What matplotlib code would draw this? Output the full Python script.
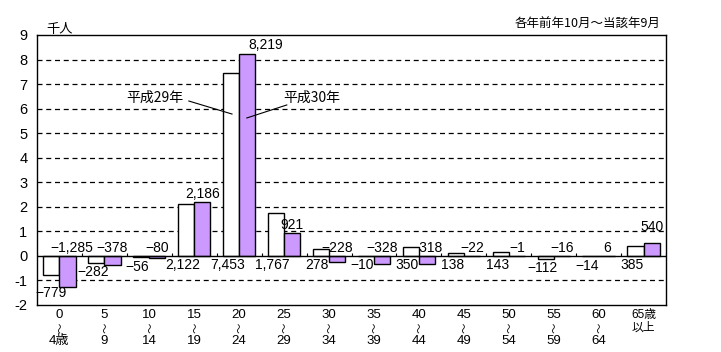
import matplotlib
matplotlib.use("Agg")
import matplotlib.pyplot as plt
import matplotlib.transforms as mtransforms
import numpy as np

plt.rcParams['font.family'] = ['Noto Sans CJK JP', 'DejaVu Sans']

cat_top = ["0", "5", "10", "15", "20", "25", "30", "35", "40", "45", "50", "55", "60", "65歳"]
cat_bottom = ["4歳", "9", "14", "19", "24", "29", "34", "39", "44", "49", "54", "59", "64", "以上"]
h29 = [-779, -282, -56, 2122, 7453, 1767, 278, -10, 350, 138, 143, -112, -14, 385]
h30 = [-1285, -378, -80, 2186, 8219, 921, -228, -328, -318, -22, -1, -16, 6, 540]
series_names = ["平成29年", "平成30年"]
unit_label = "千人"
period_label = "各年前年10月～当該年9月"

h29k = np.array(h29) / 1000.0
h30k = np.array(h30) / 1000.0

fig = plt.figure(figsize=(7.21, 3.52), dpi=100)
ax = fig.add_axes([37/721, 1 - 305/352, (666-37)/721, (305-35)/352])

n = len(cat_top)
x = np.arange(n)
w = 0.36
ax.bar(x - w/2, h29k, width=w, color='white', edgecolor='black', linewidth=1.0, zorder=3)
ax.bar(x + w/2, h30k, width=w, color='#cc99ff', edgecolor='black', linewidth=1.0, zorder=3)

ax.set_xlim(-0.5, n - 0.5)
ax.set_ylim(-2, 9)
ax.set_yticks(range(-2, 10))
ax.set_yticklabels([str(v) for v in range(-2, 10)], fontsize=10.5,
                   family=['Liberation Sans', 'DejaVu Sans'])
ax.set_xticks([])
ax.tick_params(axis='both', length=0)
ax.tick_params(axis='y', pad=7)

trans = mtransforms.blended_transform_factory(ax.transData, ax.transAxes)
xfont = ['Liberation Sans', 'Noto Sans CJK JP', 'DejaVu Sans']
for i in range(n):
    if i == n - 1:
        ax.text(i, -0.037, cat_top[i], transform=trans, ha='center', va='center', fontsize=8.5, family=xfont)
        ax.text(i, -0.085, cat_bottom[i], transform=trans, ha='center', va='center', fontsize=8.5, family=xfont)
    else:
        ax.text(i, -0.037, cat_top[i], transform=trans, ha='center', va='center', fontsize=9.5, family=xfont)
        ax.text(i, -0.083, "～", transform=trans, ha='center', va='center', fontsize=7.5,
                rotation=90, family=['Noto Sans CJK JP'])
        ax.text(i, -0.133, cat_bottom[i], transform=trans, ha='center', va='center', fontsize=9.5, family=xfont)

for yv in [-1, 1, 2, 3, 4, 5, 6, 7, 8]:
    ax.axhline(yv, color='black', linestyle=(0, (4, 3)), linewidth=0.9, zorder=1)
ax.axhline(0, color='black', linewidth=1.0, zorder=4)
ax.vlines(np.arange(n + 1) - 0.5, 0, 0.1, color='black', linewidth=0.8, zorder=4)

for s in ax.spines.values():
    s.set_linewidth(1.0)

lab_font = ['Liberation Sans', 'DejaVu Sans']

def fmt(v):
    s = f"{abs(v):,}"
    return ("−" if v < 0 else "") + s

for i, v in enumerate(h29):
    yv = min(0, v / 1000.0) - 0.38
    xx = i - w/2 - 0.08
    if i == 0:
        yv = -1.53
        xx = i - w/2
    ax.text(xx, yv, fmt(v), ha='center', va='center', fontsize=10, family=lab_font, zorder=5)

for i, v in enumerate(h30):
    yv = max(0, v / 1000.0) + 0.32
    xx = i + w/2
    if i == 4:
        xx = i + w/2 + 0.42
        yv = v / 1000.0 + 0.38
    if i == 0:
        xx = i + w/2 + 0.1
    if i == 13:
        yv = v / 1000.0 + 0.65
    ax.text(xx, yv, fmt(v), ha='center', va='center', fontsize=10, family=lab_font, zorder=5)

ax.text(2.13, 6.43, series_names[0], ha='center', va='center', fontsize=10)
ax.plot([2.88, 3.84], [6.31, 5.78], color='black', linewidth=0.8, zorder=5)
ax.text(5.62, 6.43, series_names[1], ha='center', va='center', fontsize=10)
ax.plot([5.06, 4.17], [6.15, 5.62], color='black', linewidth=0.8, zorder=5)

fig.text(60/721, 1 - 29/352, unit_label, ha='center', va='center', fontsize=9.5)
fig.text(660/721, 1 - 24/352, period_label, ha='right', va='center', fontsize=9)

fig.savefig("out.png", dpi=100)
